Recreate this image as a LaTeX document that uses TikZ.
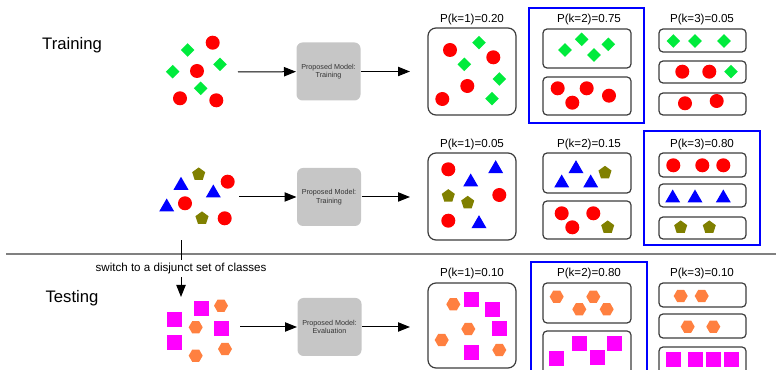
\documentclass[tikz,border=0pt]{standalone}
\usepackage{fontspec}
\setmainfont{Liberation Sans}
\usetikzlibrary{shapes.geometric,arrows.meta}

\definecolor{shred}{RGB}{255,0,0}
\definecolor{shgreen}{RGB}{0,235,60}
\definecolor{shblue}{RGB}{0,0,255}
\definecolor{sholive}{RGB}{128,128,0}
\definecolor{shmagenta}{RGB}{255,0,255}
\definecolor{shorange}{RGB}{255,128,64}
\definecolor{modelgray}{RGB}{198,198,198}
\definecolor{panelline}{RGB}{60,60,60}

\tikzset{every picture/.style={line width=0.75pt}}
\tikzset{
  rdot/.style={circle,fill=shred,inner sep=0pt,minimum size=10.5pt},
  gdiam/.style={diamond,fill=shgreen,inner sep=0pt,minimum size=10.5pt},
  btri/.style={regular polygon,regular polygon sides=3,fill=shblue,inner sep=0pt,minimum size=13pt,yshift=-1.6pt},
  opent/.style={regular polygon,regular polygon sides=5,fill=sholive,inner sep=0pt,minimum size=10.3pt},
  msq/.style={rectangle,fill=shmagenta,inner sep=0pt,minimum size=11.25pt},
  ohex/.style={regular polygon,regular polygon sides=6,fill=shorange,inner sep=0pt,minimum size=10.5pt},
  bigpanel/.style={draw=panelline,line width=0.9pt,rounded corners=6pt},
  smallpanel/.style={draw=panelline,line width=0.9pt,rounded corners=3pt},
  selbox/.style={draw=shblue,line width=1.5pt},
  model/.style={fill=modelgray,rounded corners=4.5pt,text=black!80,align=center,
    minimum width=48pt,minimum height=43.5pt,inner sep=0pt,
    font=\fontsize{5.4}{6.3}\selectfont},
  problabel/.style={font=\fontsize{8.7}{10}\selectfont},
  phase/.style={font=\fontsize{12.5}{14}\selectfont},
  flow/.style={-{Triangle[length=9pt,width=7pt]}}
}

\begin{document}
\begin{tikzpicture}[x=0.75pt,y=0.75pt,yscale=-1,xscale=1]
\clip (0,0) rectangle (776,370);

% Text Node
\node [phase] (train) at (72,45) {Training};
% Text Node
\node [phase] (test) at (72,298) {Testing};

%Straight Lines: separator
\draw [black!50,line width=1.5pt] (6,254) -- (776,254);

%%%%%%%%%%%%%%%% first training task
% input samples
\node [gdiam] (a1) at (187.7,50) {};
\node [gdiam] (a2) at (172.7,71.7) {};
\node [gdiam] (a3) at (220,64.3) {};
\node [gdiam] (a4) at (200.7,88.3) {};
\node [rdot] (a5) at (212.7,42.7) {};
\node [rdot] (a6) at (197,71) {};
\node [rdot] (a7) at (180,98.3) {};
\node [rdot] (a8) at (216.3,100.3) {};
\coordinate (ain) at (238,72);

% model
\node [model] (modelA) at (328.5,71.5) {Proposed Model:\\Training};
\coordinate (aout) at (410,71.5);
\draw [flow] (ain) -- (modelA);
\draw [flow] (modelA) -- (aout);

% k=1
\node [problabel] (pA1) at (472,20) {P(k=1)=0.20};
\draw [bigpanel] (428,28) rectangle (516,115);
\node [rdot] (ak1) at (450,50) {};
\node [rdot] (ak2) at (493.3,57.3) {};
\node [rdot] (ak3) at (467.3,86) {};
\node [rdot] (ak4) at (442.3,99) {};
\node [gdiam] (ak5) at (479,42.7) {};
\node [gdiam] (ak6) at (464.3,64.3) {};
\node [gdiam] (ak7) at (499.3,79) {};
\node [gdiam] (ak8) at (492,98.7) {};

% k=2
\draw [selbox] (529,8) rectangle (644,123);
\node [problabel] (pA2) at (589,20) {P(k=2)=0.75};
\draw [smallpanel] (543,29) rectangle (631,68);
\draw [smallpanel] (543,77) rectangle (631,115);
\node [gdiam] (al1) at (565,50) {};
\node [gdiam] (al2) at (581.7,39.3) {};
\node [gdiam] (al3) at (594,55) {};
\node [gdiam] (al4) at (608.3,44.3) {};
\node [rdot] (al5) at (557.7,88.3) {};
\node [rdot] (al6) at (586.7,88.3) {};
\node [rdot] (al7) at (572.3,102.7) {};
\node [rdot] (al8) at (609,95.7) {};

% k=3
\node [problabel] (pA3) at (702,20) {P(k=3)=0.05};
\draw [smallpanel] (659,29) rectangle (746,52);
\draw [smallpanel] (659,61) rectangle (746,83);
\draw [smallpanel] (659,93) rectangle (746,115);
\node [gdiam] (am1) at (673.3,41) {};
\node [gdiam] (am2) at (695,41) {};
\node [gdiam] (am3) at (724,41) {};
\node [rdot] (am4) at (682.3,71.7) {};
\node [rdot] (am5) at (709.3,71.7) {};
\node [gdiam] (am6) at (731,71.7) {};
\node [rdot] (am7) at (685,103.3) {};
\node [rdot] (am8) at (716.7,101) {};

%%%%%%%%%%%%%%%% second training task
% input samples
\node [btri] (b1) at (181,183.3) {};
\node [btri] (b2) at (213.3,191) {};
\node [btri] (b3) at (166.7,205) {};
\node [opent] (b4) at (198.7,174.3) {};
\node [opent] (b5) at (202,218.3) {};
\node [rdot] (b6) at (227.7,181.7) {};
\node [rdot] (b7) at (185,203.3) {};
\node [rdot] (b8) at (224.7,218.3) {};
\coordinate (bin) at (239,197);

% model
\node [model] (modelB) at (329,197) {Proposed Model:\\Training};
\coordinate (bout) at (410,197);
\draw [flow] (bin) -- (modelB);
\draw [flow] (modelB) -- (bout);

% k=1
\node [problabel] (pB1) at (472,145) {P(k=1)=0.05};
\draw [bigpanel] (428,153) rectangle (516,240);
\node [rdot] (bk1) at (448.3,169.3) {};
\node [rdot] (bk2) at (499.3,195) {};
\node [rdot] (bk3) at (448.3,220.7) {};
\node [btri] (bk4) at (495.7,166.7) {};
\node [btri] (bk5) at (470.7,180) {};
\node [btri] (bk6) at (479,221.7) {};
\node [opent] (bk7) at (448.3,196) {};
\node [opent] (bk8) at (467.7,202.7) {};

% k=2
\node [problabel] (pB2) at (589,145) {P(k=2)=0.15};
\draw [smallpanel] (543,153) rectangle (631,193);
\draw [smallpanel] (543,201) rectangle (631,239);
\node [btri] (bl1) at (576,166.7) {};
\node [btri] (bl2) at (561.7,181) {};
\node [btri] (bl3) at (590.7,181) {};
\node [opent] (bl4) at (605,172.7) {};
\node [rdot] (bl5) at (561.7,213.3) {};
\node [rdot] (bl6) at (593.3,213.3) {};
\node [rdot] (bl7) at (572.3,227.3) {};
\node [opent] (bl8) at (607.7,227.3) {};

% k=3
\draw [selbox] (644,131) rectangle (760,245);
\node [problabel] (pB3) at (702,145) {P(k=3)=0.80};
\draw [smallpanel] (659,153) rectangle (746,177);
\draw [smallpanel] (659,184) rectangle (746,207);
\draw [smallpanel] (659,217) rectangle (746,239);
\node [rdot] (bm1) at (673.3,165.3) {};
\node [rdot] (bm2) at (702.3,165.3) {};
\node [rdot] (bm3) at (723.3,165.3) {};
\node [btri] (bm4) at (672.7,196) {};
\node [btri] (bm5) at (695,196) {};
\node [btri] (bm6) at (723.3,196) {};
\node [opent] (bm7) at (680.7,227.3) {};
\node [opent] (bm8) at (709.3,227.3) {};

%%%%%%%%%%%%%%%% testing task
% input samples
\node [msq] (t1) at (174,319.3) {};
\node [msq] (t2) at (201.7,308.3) {};
\node [msq] (t3) at (221.7,328.3) {};
\node [msq] (t4) at (174,342.3) {};
\node [ohex] (t5) at (221,305.7) {};
\node [ohex] (t6) at (195.7,327.3) {};
\node [ohex] (t7) at (225,349) {};
\node [ohex] (t8) at (195.7,355.7) {};
\coordinate (tin) at (240,327);

% switch of classes
\coordinate (bbot) at (181,240.5);
\coordinate (ttop) at (181,297);
\draw [flow] (bbot) -- node [problabel,fill=white,inner xsep=1pt,inner ysep=2.4pt] (switch) {switch to a disjunct set of classes} (ttop);

% model
\node [model] (modelT) at (329.5,327) {Proposed Model:\\Evaluation};
\coordinate (tout) at (410,327);
\draw [flow] (tin) -- (modelT);
\draw [flow] (modelT) -- (tout);

% k=1
\node [problabel] (pT1) at (472,274) {P(k=1)=0.10};
\draw [bigpanel] (428,283) rectangle (516,368);
\node [ohex] (tk1) at (453.3,304.3) {};
\node [ohex] (tk2) at (468.3,329) {};
\node [ohex] (tk3) at (441.7,340) {};
\node [ohex] (tk4) at (499.3,350) {};
\node [msq] (tk5) at (471.7,300) {};
\node [msq] (tk6) at (492.3,310) {};
\node [msq] (tk7) at (499.3,328.3) {};
\node [msq] (tk8) at (471.7,352.3) {};

% k=2
\draw [selbox] (531,262) rectangle (647,385);
\node [problabel] (pT2) at (589,274) {P(k=2)=0.80};
\draw [smallpanel] (543,283) rectangle (631,323);
\draw [smallpanel] (543,331) rectangle (631,380);
\node [ohex] (tl1) at (556.7,296.7) {};
\node [ohex] (tl2) at (593.3,296.7) {};
\node [ohex] (tl3) at (579.3,309.3) {};
\node [ohex] (tl4) at (606.7,309.3) {};
\node [msq] (tl5) at (556.7,358.3) {};
\node [msq] (tl6) at (579.3,343.3) {};
\node [msq] (tl7) at (597.3,357.3) {};
\node [msq] (tl8) at (614.5,343.3) {};

% k=3
\node [problabel] (pT3) at (702,274) {P(k=3)=0.10};
\draw [smallpanel] (659,283) rectangle (746,307);
\draw [smallpanel] (659,314) rectangle (746,338);
\draw [smallpanel] (659,347) rectangle (746,380);
\node [ohex] (tm1) at (680.7,296) {};
\node [ohex] (tm2) at (701.7,296) {};
\node [ohex] (tm3) at (687.7,326.7) {};
\node [ohex] (tm4) at (713.3,326.7) {};
\node [msq] (tm5) at (673.3,359.3) {};
\node [msq] (tm6) at (695.3,359.3) {};
\node [msq] (tm7) at (713.3,359.3) {};
\node [msq] (tm8) at (731.5,359.3) {};

\end{tikzpicture}
\end{document}
